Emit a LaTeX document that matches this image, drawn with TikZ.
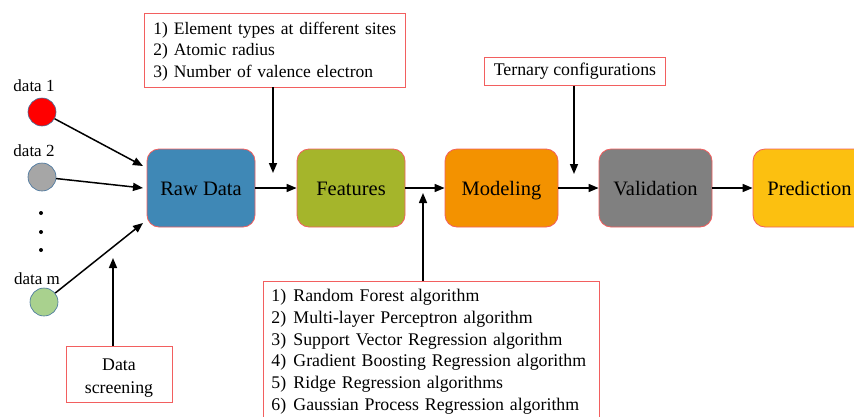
\documentclass[tikz,border=0pt]{standalone}
\usepackage{fontspec}
\setmainfont{Liberation Serif}
\usetikzlibrary{arrows.meta,positioning,calc}
\definecolor{bordred}{HTML}{F25F5F}
\definecolor{circline}{HTML}{41719C}
\definecolor{rawc}{HTML}{3F88B6}
\definecolor{featc}{HTML}{A5B52B}
\definecolor{modc}{HTML}{F39200}
\definecolor{valc}{HTML}{808080}
\definecolor{predc}{HTML}{FCC010}
\tikzset{
  stagebox/.style={draw=bordred, line width=0.8pt, rounded corners=12pt, minimum height=78pt, text height=17pt, text depth=1.4pt, font=\fontsize{20.5}{24}\selectfont},
  infobox/.style={draw=bordred, line width=0.9pt, fill=white, font=\fontsize{17.8}{21.8}\selectfont, align=left},
  datac/.style={circle, draw=circline, line width=0.6pt, minimum size=28pt, inner sep=0pt},
  lbl/.style={font=\fontsize{17}{20}\selectfont, inner sep=0pt},
  arr/.style={-{Triangle[length=10pt,width=8pt]}, line width=1.5pt},
}
\newcommand{\numit}[1]{\makebox[22pt][l]{#1}}
\begin{document}
\begin{tikzpicture}[x=1pt,y=-1pt]
\clip (0,0) rectangle (854,416);
\fill[white] (0,0) rectangle (854,416);
% stage boxes
\node[stagebox, fill=rawc, minimum width=108pt] (raw) at (201,188) {Raw Data};
\node[stagebox, fill=featc, minimum width=108pt] (feat) at (351,188) {Features};
\node[stagebox, fill=modc, minimum width=113pt] (mod) at (501.5,188) {Modeling};
\node[stagebox, fill=valc, minimum width=113pt] (val) at (655.5,188) {Validation};
\node[stagebox, fill=predc, minimum width=113pt] (pred) at (809.5,188) {Prediction};
% data circles
\node[datac, fill=red] (d1) at (42,112) {};
\node[datac, fill={rgb,255:red,166;green,166;blue,166}] (d2) at (42,177) {};
\node[datac, fill={rgb,255:red,169;green,209;blue,142}] (dm) at (44,302) {};
\node[lbl] (l1) at (34,86) {data 1};
\node[lbl] (l2) at (34,151) {data 2};
\node[lbl] (lm) at (37,279) {data m};
\foreach \yy in {213,232,250} {\fill (41,\yy) circle (2pt);}
% data arrows
\coordinate (e1) at (143,166);
\coordinate (e2) at (143,188);
\coordinate (em) at (143,223);
\draw[arr] (d1) -- (e1);
\draw[arr] (d2) -- (e2);
\draw[arr] (dm) -- (em);
% data screening
\node[draw=bordred, line width=0.9pt, minimum width=106pt, minimum height=56pt] (scr) at (119,374) {};
\node[align=center, font=\fontsize{17.8}{23}\selectfont] (scrt) at (119,378) {Data\\screening};
\coordinate (scrend) at (113,258);
\draw[arr] (scr.north -| scrend) -- (scrend);
% main chain
\draw[arr] (raw) -- (feat);
\draw[arr] (feat) -- (mod);
\draw[arr] (mod) -- (val);
\draw[arr] (val) -- (pred);
% top features box
\node[infobox, font=\fontsize{17.5}{21.6}\selectfont, anchor=north west, text width=243pt, inner xsep=9pt, inner ysep=5.8pt] (top) at (144,13) {\rule{0pt}{15pt}\mbox{1) Element types at different sites}\\\mbox{2) Atomic radius}\\\mbox{3) Number of valence electron}};
\coordinate (topend) at (273,173);
\draw[arr] (top.south -| topend) -- (topend);
% ternary
\node[infobox, anchor=north west, minimum width=181pt, minimum height=28pt, align=center] (tern) at (484,57) {Ternary configurations};
\coordinate (ternend) at (574,174);
\draw[arr] (tern.south -| ternend) -- (ternend);
% algorithms
\node[infobox, anchor=north west, text width=320pt, inner xsep=8pt, inner ysep=5.5pt] (alg) at (263,281) {\rule{0pt}{14.5pt}\numit{1)}Random Forest algorithm\\\numit{2)}Multi-layer Perceptron algorithm\\\numit{3)}Support Vector Regression algorithm\\\numit{4)}Gradient Boosting Regression algorithm\\\numit{5)}Ridge Regression algorithms\\\numit{6)}Gaussian Process Regression algorithm\\\numit{}};
\coordinate (algend) at (423,193);
\draw[arr] (alg.north -| algend) -- (algend);
\end{tikzpicture}
\end{document}
